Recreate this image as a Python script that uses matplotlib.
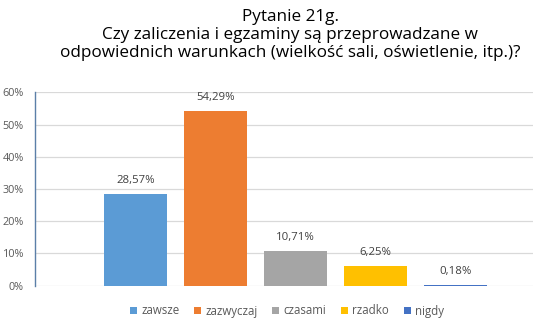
import matplotlib
matplotlib.use("Agg")
import matplotlib.pyplot as plt
from matplotlib.patches import Patch

categories = ["zawsze", "zazwyczaj", "czasami", "rzadko", "nigdy"]
values = [28.57, 54.29, 10.71, 6.25, 0.18]
labels = ["28,57%", "54,29%", "10,71%", "6,25%", "0,18%"]
yticks = [0, 10, 20, 30, 40, 50, 60]
ytick_labels = ["0%", "10%", "20%", "30%", "40%", "50%", "60%"]
colors = ["#5B9BD5", "#ED7D31", "#A5A5A5", "#FFC000", "#4472C4"]
title = "Pytanie 21g.\nCzy zaliczenia i egzaminy są przeprowadzane w\nodpowiednich warunkach (wielkość sali, oświetlenie, itp.)?"

plt.rcParams['font.family'] = ['Open Sans', 'DejaVu Sans']

W, H = 533, 328
fig = plt.figure(figsize=(W / 100, H / 100), dpi=100)
left, right = 35 / W, 1.0
bottom, top = 1 - 285.7 / H, 1 - 92.3 / H
ax = fig.add_axes([left, bottom, right - left, top - bottom])

x = list(range(len(categories)))
bars = ax.bar(x, values, width=63 / 80, color=colors, zorder=3)
for xi, v, lab in zip(x, values, labels):
    ax.text(xi, v + 2.4, lab, ha="center", va="bottom", fontsize=8.2, color="#404040")

ax.set_ylim(0, 60)
ax.set_xlim(-(135.5 - 35) / 80, (533 - 135.5) / 80)
ax.set_yticks(yticks)
ax.set_yticklabels(ytick_labels, fontsize=7.8, color="#595959")
ax.set_xticks([])
ax.tick_params(axis="y", length=0, pad=8)
ax.grid(axis="y", color="#D9D9D9", linewidth=0.9, zorder=0)
for s in ["top", "right", "bottom"]:
    ax.spines[s].set_visible(False)
ax.spines["left"].set_color("#5B7FA8")
ax.spines["left"].set_linewidth(1.0)

fig.text(290 / W, 1 - 9 / H, title, ha="center", va="top", fontsize=12.3,
         color="#000000", linespacing=1.18)

handles = [Patch(facecolor=c, edgecolor="none") for c in colors]
fig.legend(handles, categories, loc="center", bbox_to_anchor=(287 / W, 1 - 311 / H),
           ncol=5, frameon=False, fontsize=8.3, handlelength=0.6, handleheight=0.6,
           handletextpad=0.4, columnspacing=1.25, labelcolor="#595959")

fig.savefig("out.png", dpi=100)
